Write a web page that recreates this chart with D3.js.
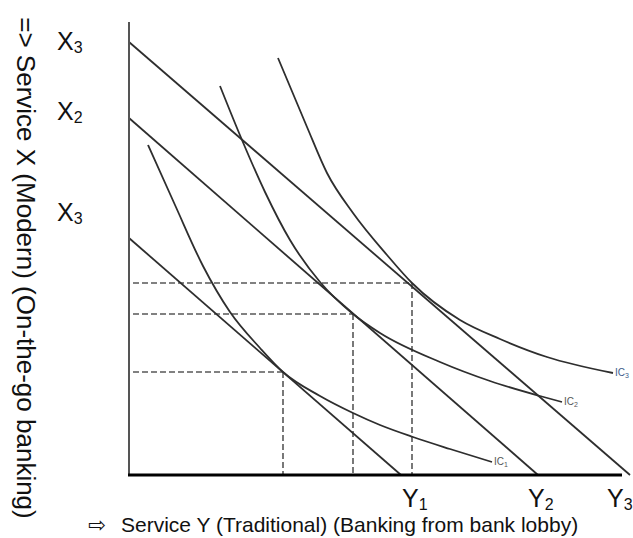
<!DOCTYPE html>
<html>
<head>
<meta charset="utf-8">
<script src="https://cdn.jsdelivr.net/npm/d3@7"></script>
<style>
  body { margin: 0; background: #fff; }
  svg { display: block; font-family: 'Liberation Sans', Arial, sans-serif; }
</style>
</head>
<body>
<script>
// budget lines, given by where they cut each axis (Y service, X service)
const budgetX = [54.4, 81.8, 100.2];
const budgetY = [47.4, 71.4, 86.6];

// optimum bundles where each budget line touches its indifference curve
const optimum = [[30.8, 20.6], [44.8, 32.2], [56.6, 38.4]];

// indifference curves, points
const ic1 = [[3.8, 66], [9.2, 54], [14.8, 41.8], [20.2, 32.6], [26.2, 25.4], [30.8, 20.6],
  [38.2, 15.8], [44.8, 12.4], [50.2, 10], [56.8, 7.6], [64.2, 5.2], [72.6, 2.6]];
const ic2 = [[18.2, 77.8], [22.6, 67], [27.2, 56.6], [32.2, 47], [38.2, 38.6], [44.8, 32.2],
  [50.2, 28.4], [62.2, 22.6], [72.2, 18.8], [82.2, 15.8], [86.6, 14.6]];
const ic3 = [[29.8, 83.4], [35.6, 69.6], [39.6, 60.4], [44.8, 52.4], [51.6, 44], [56.6, 38.4],
  [66.2, 31], [74.2, 27.2], [83.6, 23.6], [96.8, 20.4]];
const icSubs = ['1', '2', '3'];

// tick labels on both axes
const xTickSubs = ['3', '2', '3'];
const xTickAt = [86.8, 72.8, 52.6];
const yTickSubs = ['1', '2', '3'];
const yTickAt = [57.2, 82.4, 98.2];

const xMax = 98.6;
const yMax = 90.6;

const width = 633;
const height = 538;

const svg = d3.select('body')
  .append('svg')
  .attr('width', width)
  .attr('height', height);

const x = d3.scaleLinear().domain([0, 100]).range([129, 629]);
const y = d3.scaleLinear().domain([0, yMax]).range([475, 22]);

const ink = '#2e2e2e';

// dashed guides from the optimum bundles to both axes
const guides = svg.append('g')
  .attr('stroke', '#585858')
  .attr('stroke-width', 1.6)
  .attr('stroke-dasharray', '6,3')
  .attr('fill', 'none');

guides.selectAll('.h-guide')
  .data(optimum)
  .enter()
  .append('line')
  .attr('class', 'h-guide')
  .attr('x1', x(0) + 4)
  .attr('y1', d => y(d[1]))
  .attr('x2', d => x(d[0]))
  .attr('y2', d => y(d[1]));

guides.selectAll('.v-guide')
  .data(optimum)
  .enter()
  .append('line')
  .attr('class', 'v-guide')
  .attr('x1', d => x(d[0]))
  .attr('y1', d => y(d[1]))
  .attr('x2', d => x(d[0]))
  .attr('y2', y(0));

// budget lines
svg.selectAll('.budget')
  .data(budgetX)
  .enter()
  .append('line')
  .attr('class', 'budget')
  .attr('x1', x(0))
  .attr('y1', (d, i) => y(budgetY[i]))
  .attr('x2', d => x(d))
  .attr('y2', y(0))
  .attr('stroke', ink)
  .attr('stroke-width', 1.8);

// indifference curves
const curve = d3.line()
  .x(d => x(d[0]))
  .y(d => y(d[1]))
  .curve(d3.curveMonotoneX);

const curves = [ic1, ic2, ic3];

svg.selectAll('.ic')
  .data(curves)
  .enter()
  .append('path')
  .attr('class', 'ic')
  .attr('d', curve)
  .attr('fill', 'none')
  .attr('stroke', ink)
  .attr('stroke-width', 1.8);

const icLabel = svg.selectAll('.ic-label')
  .data(curves)
  .enter()
  .append('text')
  .attr('class', 'ic-label')
  .attr('x', d => x(d[d.length - 1][0]) + 2)
  .attr('y', d => y(d[d.length - 1][1]) + 3)
  .attr('font-size', 10)
  .attr('fill', (d, i) => (i === 2 ? '#3d5a8a' : '#555'))
  .text('IC');

icLabel.append('tspan')
  .attr('font-size', 7)
  .attr('dy', 2)
  .text((d, i) => icSubs[i]);

// axes
svg.append('line')
  .attr('x1', x(0))
  .attr('y1', y(0))
  .attr('x2', x(0))
  .attr('y2', y(yMax))
  .attr('stroke', '#555')
  .attr('stroke-width', 2);

svg.append('line')
  .attr('x1', x(0) - 1)
  .attr('y1', y(0))
  .attr('x2', x(xMax))
  .attr('y2', y(0))
  .attr('stroke', '#000')
  .attr('stroke-width', 3);

// tick labels
const xTick = svg.selectAll('.x-tick')
  .data(xTickAt)
  .enter()
  .append('text')
  .attr('class', 'x-tick')
  .attr('x', 57)
  .attr('y', d => y(d) + 9)
  .attr('font-size', 25)
  .attr('fill', '#111')
  .text('X');

xTick.append('tspan')
  .attr('font-size', 16)
  .attr('dy', 3)
  .text((d, i) => xTickSubs[i]);

const yTick = svg.selectAll('.y-tick')
  .data(yTickAt)
  .enter()
  .append('text')
  .attr('class', 'y-tick')
  .attr('x', d => x(d) - 13)
  .attr('y', 507)
  .attr('font-size', 25)
  .attr('fill', '#111')
  .text('Y');

yTick.append('tspan')
  .attr('font-size', 16)
  .attr('dy', 3)
  .text((d, i) => yTickSubs[i]);

// axis titles
svg.append('text')
  .attr('transform', 'translate(17, 268) rotate(90)')
  .attr('text-anchor', 'middle')
  .attr('font-size', 26)
  .attr('fill', '#111')
  .text('=> Service X (Modern) (On-the-go banking)');

svg.append('text')
  .attr('x', 88)
  .attr('y', 532)
  .attr('font-size', 21)
  .attr('font-family', 'DejaVu Sans')
  .attr('fill', '#111')
  .text('\u21E8');

svg.append('text')
  .attr('x', 121)
  .attr('y', 532)
  .attr('font-size', 21)
  .attr('fill', '#111')
  .text('Service Y (Traditional) (Banking from bank lobby)');
</script>
</body>
</html>
